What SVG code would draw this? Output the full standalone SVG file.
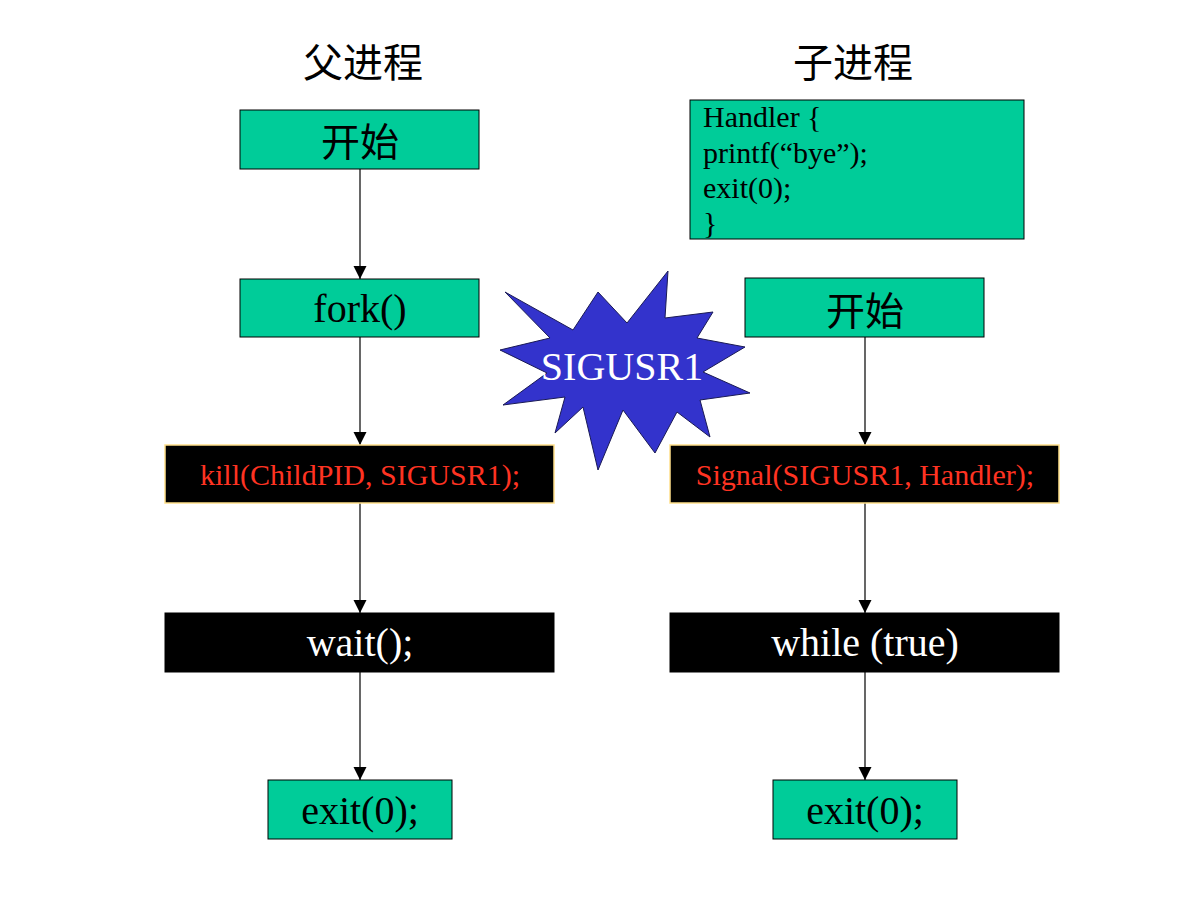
<svg xmlns="http://www.w3.org/2000/svg" width="1199" height="899" viewBox="0 0 1199 899">
<defs>
<marker id="ah" markerWidth="14" markerHeight="14" refX="13" refY="7" orient="auto" markerUnits="userSpaceOnUse"><path d="M0,0.5 L13,7 L0,13.5 Z" fill="#000"/></marker>
<style>
.g{fill:#00CC99;stroke:#000;stroke-width:1}
.b{fill:#000;stroke:#FFE08A;stroke-width:1.5}
.bb{fill:#000;stroke:#000;stroke-width:1}
.t{font-family:"Liberation Serif","Times New Roman",serif;text-anchor:middle}
.cjk{font-family:"Noto Sans CJK SC","Noto Sans CJK JP",sans-serif;text-anchor:middle}
.c{stroke:#000;stroke-width:1.2;fill:none;marker-end:url(#ah)}
</style>
</defs>
<rect width="1199" height="899" fill="#fff"/>
<text class="cjk" x="363" y="77" font-size="40" fill="#000">父进程</text>
<text class="cjk" x="853" y="77" font-size="40" fill="#000">子进程</text>
<g id="connectors">
<line class="c" x1="360" y1="169" x2="360" y2="279"/>
<line class="c" x1="360" y1="337" x2="360" y2="445"/>
<line class="c" x1="360" y1="503" x2="360" y2="613"/>
<line class="c" x1="360" y1="672" x2="360" y2="780"/>
<line class="c" x1="865" y1="337" x2="865" y2="445"/>
<line class="c" x1="865" y1="503" x2="865" y2="613"/>
<line class="c" x1="865" y1="672" x2="865" y2="780"/>
</g>
<g id="p-start"><rect class="g" x="240" y="110" width="239" height="59"/><text class="cjk" x="360" y="156" font-size="39" fill="#000">开始</text></g>
<g id="p-fork"><rect class="g" x="240" y="279" width="239" height="58"/><text class="t" x="360" y="322" font-size="40" fill="#000">fork()</text></g>
<g id="p-kill"><rect class="b" x="165" y="445" width="389" height="58"/><text class="t" x="360" y="485" font-size="30" fill="#FF3322">kill(ChildPID, SIGUSR1);</text></g>
<g id="p-wait"><rect class="bb" x="165" y="613" width="389" height="59"/><text class="t" x="360" y="656" font-size="40" fill="#fff">wait();</text></g>
<g id="p-exit"><rect class="g" x="268" y="780" width="184" height="59"/><text class="t" x="360" y="824" font-size="40" fill="#000">exit(0);</text></g>
<g id="c-handler"><rect class="g" x="690" y="100" width="334" height="139"/>
<text font-family="'Liberation Serif','Times New Roman',serif" font-size="30" fill="#000"><tspan x="703" y="127">Handler {</tspan><tspan x="703" y="163">printf(“bye”);</tspan><tspan x="703" y="198">exit(0);</tspan><tspan x="703" y="233">}</tspan></text></g>
<g id="c-start"><rect class="g" x="745" y="278" width="239" height="59"/><text class="cjk" x="865" y="325" font-size="39" fill="#000">开始</text></g>
<g id="c-signal"><rect class="b" x="670" y="445" width="389" height="58"/><text class="t" x="865" y="485" font-size="30" fill="#FF3322">Signal(SIGUSR1, Handler);</text></g>
<g id="c-while"><rect class="bb" x="670" y="613" width="389" height="59"/><text class="t" x="865" y="656" font-size="40" fill="#fff">while (true)</text></g>
<g id="c-exit"><rect class="g" x="773" y="780" width="184" height="59"/><text class="t" x="865" y="824" font-size="40" fill="#000">exit(0);</text></g>
<g id="signal">
<polygon points="505,292 573,330 598,292 627,323 668,271 665,318 713,312 697,338 745,347 703,372 750,393 700,400 710,437 677,412 655,453 623,410 598,470 583,407 555,433 565,397 503,405 547,373 500,350 550,338" fill="#3333CC" stroke="#1A1A55" stroke-width="1"/>
<text class="t" x="622" y="380" font-size="40" fill="#fff">SIGUSR1</text>
</g>
</svg>
